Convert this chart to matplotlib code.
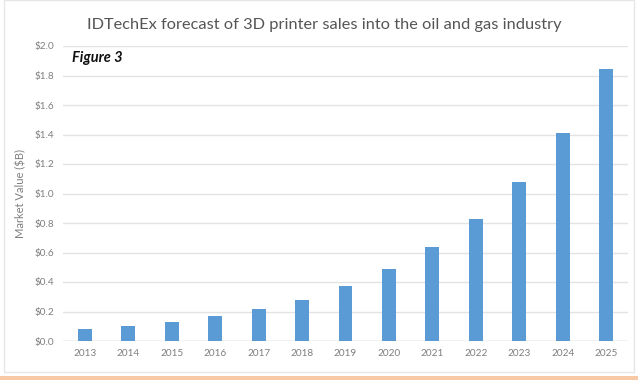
import matplotlib.pyplot as plt
from matplotlib.patches import Rectangle

years = ["2013", "2014", "2015", "2016", "2017", "2018", "2019",
         "2020", "2021", "2022", "2023", "2024", "2025"]
values = [0.08, 0.10, 0.127, 0.17, 0.215, 0.28, 0.373,
          0.486, 0.635, 0.825, 1.08, 1.41, 1.844]
yticks = [0.0, 0.2, 0.4, 0.6, 0.8, 1.0, 1.2, 1.4, 1.6, 1.8, 2.0]

plt.rcParams['font.family'] = ['Lato', 'DejaVu Sans']

fig = plt.figure(figsize=(6.38, 3.8), dpi=100)
ax = fig.add_axes([63 / 638, 39 / 380, 565 / 638, 295 / 380])

x = range(len(years))
ax.bar(x, values, width=0.32, color="#5b9bd5", zorder=3)
ax.set_xlim(-0.5, len(years) - 0.5)
ax.set_ylim(0, 2.0)
ax.set_xticks(list(x))
ax.set_xticklabels(years)
ax.set_yticks(yticks)
ax.set_yticklabels(["$%.1f" % v for v in yticks])
ax.tick_params(length=0, labelsize=7.2, labelcolor="#7f7f7f", pad=6)
ax.grid(axis="y", color="#e3e3e3", linewidth=1, zorder=0)
for s in ax.spines.values():
    s.set_visible(False)
ax.axhline(0, color="#d9d9d9", linewidth=1, zorder=2)

ax.set_ylabel("Market Value ($B)", fontsize=8, color="#7f7f7f", labelpad=6)

fig.text(0.508, 1 - 25 / 380, "IDTechEx forecast of 3D printer sales into the oil and gas industry",
         ha="center", va="center", fontsize=11.8, color="#555555")
fig.text(72 / 638, 1 - 58 / 380, "Figure 3", ha="left", va="center",
         fontsize=10.5, fontweight="bold", fontstyle="italic", color="#111111")

# frame and bottom band
fig.patches.append(Rectangle((4 / 638, 8 / 380), 630 / 638, 372 / 380, transform=fig.transFigure,
                             fill=False, edgecolor="#e6e6e6", linewidth=1))
fig.patches.append(Rectangle((0, 0), 1, 4 / 380, transform=fig.transFigure,
                             facecolor="#f9c9a6", edgecolor="none"))

fig.savefig("out.png", dpi=100)
